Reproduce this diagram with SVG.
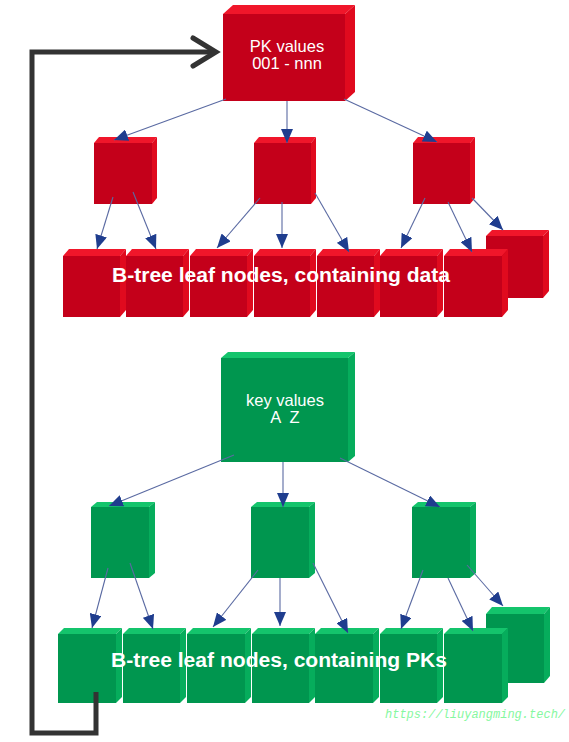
<svg xmlns="http://www.w3.org/2000/svg" width="569" height="742" viewBox="0 0 569 742">
<style>
.rf{fill:#c4001a}.rt{fill:#f0162a}.rs{fill:#e00a1e}
.gf{fill:#00964f}.gt{fill:#14c46c}.gs{fill:#06ad5c}
.lbl{font-family:"Liberation Sans",Arial,sans-serif;fill:#ffffff;text-anchor:middle}
.big{font-size:20px;font-weight:bold}
.root{font-size:16.5px}
.c{stroke:#5a6aa2;stroke-width:1.1;fill:none;marker-end:url(#ah)}
.loop{stroke:#333333;stroke-width:5;fill:none;stroke-linejoin:miter}
.wm{font-family:"Liberation Mono","Courier New",monospace;font-style:italic;font-size:12px;fill:#86f7a0}
</style>
<defs>
<marker id="ah" viewBox="0 0 14 12" refX="14" refY="6" markerWidth="14" markerHeight="12" markerUnits="userSpaceOnUse" orient="auto">
<path d="M0,0 L14,6 L0,12 Z" fill="#1f3d8e"/>
</marker>
</defs>
<rect width="569" height="742" fill="#ffffff"/>

<!-- red tree -->
<g id="red-root">
<polygon class="rt" points="223,14 233,5 355,5 345,14"/>
<polygon class="rs" points="345,14 355,5 355,92 345,101"/>
<rect class="rf" x="223" y="14" width="122" height="87"/>
<text class="lbl root" x="287" y="52">PK values</text>
<text class="lbl root" x="287" y="69">001 - nnn</text>
</g>
<g id="red-mid-1">
<polygon class="rt" points="94,143 99,137 157,137 152,143"/>
<polygon class="rs" points="152,143 157,137 157,198 152,204"/>
<rect class="rf" x="94" y="143" width="58" height="61"/>
</g>
<g id="red-mid-2">
<polygon class="rt" points="254,143 259,137 316,137 311,143"/>
<polygon class="rs" points="311,143 316,137 316,198 311,204"/>
<rect class="rf" x="254" y="143" width="57" height="61"/>
</g>
<g id="red-mid-3">
<polygon class="rt" points="413,143 418,137 475,137 470,143"/>
<polygon class="rs" points="470,143 475,137 475,198 470,204"/>
<rect class="rf" x="413" y="143" width="57" height="61"/>
</g>
<g id="red-leaves">
<g id="red-leaf-8">
<polygon class="rt" points="486,236 492,230 549,230 543,236"/>
<polygon class="rs" points="543,236 549,230 549,291 543,298"/>
<rect class="rf" x="486" y="236" width="57" height="62"/>
</g>
<g id="red-leaf-1">
<polygon class="rt" points="63,256 69,249 126,249 120,256"/>
<polygon class="rs" points="120,256 126,249 126,310 120,317"/>
<rect class="rf" x="63" y="256" width="57" height="61"/>
</g>
<g id="red-leaf-2">
<polygon class="rt" points="126,256 132,249 189,249 183,256"/>
<polygon class="rs" points="183,256 189,249 189,310 183,317"/>
<rect class="rf" x="126" y="256" width="57" height="61"/>
</g>
<g id="red-leaf-3">
<polygon class="rt" points="190,256 196,249 253,249 247,256"/>
<polygon class="rs" points="247,256 253,249 253,310 247,317"/>
<rect class="rf" x="190" y="256" width="57" height="61"/>
</g>
<g id="red-leaf-4">
<polygon class="rt" points="254,256 260,249 316,249 310,256"/>
<polygon class="rs" points="310,256 316,249 316,310 310,317"/>
<rect class="rf" x="254" y="256" width="56" height="61"/>
</g>
<g id="red-leaf-5">
<polygon class="rt" points="317,256 323,249 380,249 374,256"/>
<polygon class="rs" points="374,256 380,249 380,310 374,317"/>
<rect class="rf" x="317" y="256" width="57" height="61"/>
</g>
<g id="red-leaf-6">
<polygon class="rt" points="380,256 386,249 443,249 437,256"/>
<polygon class="rs" points="437,256 443,249 443,310 437,317"/>
<rect class="rf" x="380" y="256" width="57" height="61"/>
</g>
<g id="red-leaf-7">
<polygon class="rt" points="444,256 450,249 508,249 502,256"/>
<polygon class="rs" points="502,256 508,249 508,310 502,317"/>
<rect class="rf" x="444" y="256" width="58" height="61"/>
</g>
<text class="lbl big" x="281" y="282" textLength="338" lengthAdjust="spacingAndGlyphs">B-tree leaf nodes, containing data</text>
</g>

<!-- green tree -->
<g id="green-root">
<polygon class="gt" points="221,358 228,352 355,352 348,358"/>
<polygon class="gs" points="348,358 355,352 355,456 348,462"/>
<rect class="gf" x="221" y="358" width="127" height="104"/>
<text class="lbl root" x="285" y="406">key values</text>
<text class="lbl root" x="285" y="423" xml:space="preserve">A  Z</text>
</g>
<g id="green-mid-1">
<polygon class="gt" points="91,507 97,502 155,502 149,507"/>
<polygon class="gs" points="149,507 155,502 155,573 149,578"/>
<rect class="gf" x="91" y="507" width="58" height="71"/>
</g>
<g id="green-mid-2">
<polygon class="gt" points="251,507 257,502 315,502 309,507"/>
<polygon class="gs" points="309,507 315,502 315,573 309,578"/>
<rect class="gf" x="251" y="507" width="58" height="71"/>
</g>
<g id="green-mid-3">
<polygon class="gt" points="412,507 418,502 476,502 470,507"/>
<polygon class="gs" points="470,507 476,502 476,573 470,578"/>
<rect class="gf" x="412" y="507" width="58" height="71"/>
</g>
<g id="green-leaves">
<g id="green-leaf-8">
<polygon class="gt" points="486,614 492,607 550,607 544,614"/>
<polygon class="gs" points="544,614 550,607 550,676 544,683"/>
<rect class="gf" x="486" y="614" width="58" height="69"/>
</g>
<g id="green-leaf-1">
<polygon class="gt" points="58,634 64,628 122,628 116,634"/>
<polygon class="gs" points="116,634 122,628 122,697 116,703"/>
<rect class="gf" x="58" y="634" width="58" height="69"/>
</g>
<g id="green-leaf-2">
<polygon class="gt" points="123,634 129,628 186,628 180,634"/>
<polygon class="gs" points="180,634 186,628 186,697 180,703"/>
<rect class="gf" x="123" y="634" width="57" height="69"/>
</g>
<g id="green-leaf-3">
<polygon class="gt" points="187,634 193,628 251,628 245,634"/>
<polygon class="gs" points="245,634 251,628 251,697 245,703"/>
<rect class="gf" x="187" y="634" width="58" height="69"/>
</g>
<g id="green-leaf-4">
<polygon class="gt" points="252,634 258,628 315,628 309,634"/>
<polygon class="gs" points="309,634 315,628 315,697 309,703"/>
<rect class="gf" x="252" y="634" width="57" height="69"/>
</g>
<g id="green-leaf-5">
<polygon class="gt" points="315,634 321,628 379,628 373,634"/>
<polygon class="gs" points="373,634 379,628 379,697 373,703"/>
<rect class="gf" x="315" y="634" width="58" height="69"/>
</g>
<g id="green-leaf-6">
<polygon class="gt" points="380,634 386,628 443,628 437,634"/>
<polygon class="gs" points="437,634 443,628 443,697 437,703"/>
<rect class="gf" x="380" y="634" width="57" height="69"/>
</g>
<g id="green-leaf-7">
<polygon class="gt" points="444,634 450,628 508,628 502,634"/>
<polygon class="gs" points="502,634 508,628 508,697 502,703"/>
<rect class="gf" x="444" y="634" width="58" height="69"/>
</g>
<text class="lbl big" x="279" y="667" textLength="336" lengthAdjust="spacingAndGlyphs">B-tree leaf nodes, containing PKs</text>
</g>

<g id="connectors">
<!-- red -->
<line class="c" x1="226" y1="99" x2="114" y2="140"/>
<line class="c" x1="287" y1="101" x2="287" y2="143"/>
<line class="c" x1="344" y1="99" x2="437" y2="142"/>
<line class="c" x1="113" y1="197" x2="97" y2="249"/>
<line class="c" x1="133" y1="192" x2="156" y2="249"/>
<line class="c" x1="260" y1="198" x2="217" y2="248"/>
<line class="c" x1="282" y1="202" x2="282" y2="248"/>
<line class="c" x1="315" y1="193" x2="349" y2="252"/>
<line class="c" x1="425" y1="198" x2="401" y2="248"/>
<line class="c" x1="448" y1="202" x2="472" y2="252"/>
<line class="c" x1="472" y1="198" x2="503" y2="230"/>
<!-- green -->
<line class="c" x1="234" y1="455" x2="109" y2="506"/>
<line class="c" x1="283" y1="462" x2="283" y2="507"/>
<line class="c" x1="340" y1="458" x2="440" y2="507"/>
<line class="c" x1="108" y1="568" x2="92" y2="628"/>
<line class="c" x1="130" y1="563" x2="153" y2="629"/>
<line class="c" x1="258" y1="570" x2="213" y2="627"/>
<line class="c" x1="280" y1="578" x2="280" y2="626"/>
<line class="c" x1="313" y1="563" x2="348" y2="633"/>
<line class="c" x1="423" y1="570" x2="401" y2="629"/>
<line class="c" x1="448" y1="578" x2="473" y2="631"/>
<line class="c" x1="467" y1="565" x2="503" y2="606"/>
<!-- loop back -->
<path class="loop" d="M96,692 L96,733 L32,733 L32,52 L215,52"/>
<path class="loop" d="M193,38 L216,52 L193,66" stroke-linecap="round"/>
</g>

<text class="wm" x="385" y="718">https://liuyangming.tech/</text>
</svg>
